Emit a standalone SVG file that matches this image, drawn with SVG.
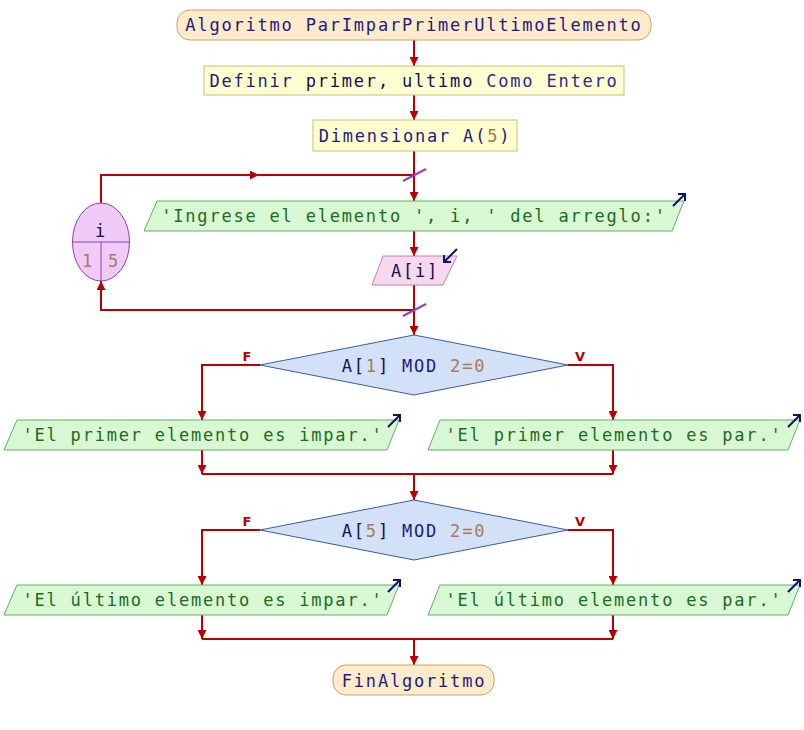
<svg xmlns="http://www.w3.org/2000/svg" width="804" height="730" viewBox="0 0 804 730">
  <defs>
    <marker id="ah" viewBox="0 0 8 8" refX="8" refY="4" markerWidth="9" markerHeight="9" markerUnits="userSpaceOnUse" orient="auto">
      <path d="M0,0 L8,4 L0,8 z" fill="#b80000"/>
    </marker>
  </defs>
  <style>
    .t { font-family: "DejaVu Sans Mono", "Liberation Mono", monospace; font-size: 17px; letter-spacing: 1.8px; text-anchor: middle; }
    .kw { fill: #1c1c7c; }
    .id { fill: #101050; }
    .num { fill: #a87a5a; }
    .out { fill: #1e6a1e; }
    .term { fill: #fdebcc; stroke: #c8a46a; stroke-width: 1; }
    .proc { fill: #ffffcf; stroke: #c8c078; stroke-width: 1; }
    .outp { fill: #d8f8d4; stroke: #62b062; stroke-width: 1; }
    .inp { fill: #f8d8ee; stroke: #c880b0; stroke-width: 1; }
    .dec { fill: #d2e0f8; stroke: #3c5c9c; stroke-width: 1; }
    .loop { fill: #f2caf8; stroke: #8a40a8; stroke-width: 1; }
    .io { fill: none; stroke: #12126e; stroke-width: 2; }
    .lbl { font-family: "DejaVu Sans", "Liberation Sans", sans-serif; font-size: 13px; font-weight: bold; fill: #b80000; text-anchor: middle; }
    .c { fill: none; stroke: #b80000; stroke-width: 2; }
    .cm { fill: none; stroke: #b80000; stroke-width: 2; marker-end: url(#ah); }
    .sl { stroke: #9040c8; stroke-width: 2; }
  </style>

  <!-- connectors -->
  <g id="connectors">
    <line class="cm" x1="414" y1="40" x2="414" y2="66"/>
    <line class="cm" x1="414" y1="95" x2="414" y2="120"/>
    <line class="cm" x1="414" y1="151" x2="414" y2="201"/>
    <line class="cm" x1="414" y1="231" x2="414" y2="256"/>
    <line class="cm" x1="414" y1="285" x2="414" y2="335"/>
    <!-- loop back-edges -->
    <polyline class="cm" points="101,203 101,175 259,175"/>
    <line class="c" x1="256" y1="175" x2="414" y2="175"/>
    <polyline class="cm" points="414,310 101,310 101,281"/>
    <line class="sl" x1="403" y1="181" x2="426" y2="169"/>
    <line class="sl" x1="403" y1="316" x2="426" y2="304"/>
    <!-- first decision -->
    <polyline class="cm" points="260,365 202,365 202,420"/>
    <polyline class="cm" points="568,365 613,365 613,420"/>
    <line class="cm" x1="202" y1="450" x2="202" y2="474"/>
    <line class="cm" x1="613" y1="450" x2="613" y2="474"/>
    <line class="c" x1="202" y1="474" x2="613" y2="474"/>
    <line class="cm" x1="414" y1="474" x2="414" y2="500"/>
    <!-- second decision -->
    <polyline class="cm" points="260,530 202,530 202,585"/>
    <polyline class="cm" points="568,530 613,530 613,585"/>
    <line class="cm" x1="202" y1="615" x2="202" y2="639"/>
    <line class="cm" x1="613" y1="615" x2="613" y2="639"/>
    <line class="c" x1="202" y1="639" x2="613" y2="639"/>
    <line class="cm" x1="414" y1="639" x2="414" y2="665"/>
    <text class="lbl" x="247" y="361">F</text>
    <text class="lbl" x="580" y="361">V</text>
    <text class="lbl" x="247" y="526">F</text>
    <text class="lbl" x="580" y="526">V</text>
  </g>

  <g id="inicio">
    <rect class="term" x="177" y="10" width="474" height="30" rx="13"/>
    <text class="t kw" x="414" y="31">Algoritmo ParImparPrimerUltimoElemento</text>
  </g>

  <g id="definir">
    <rect class="proc" x="204" y="66" width="420" height="29"/>
    <text class="t" x="414" y="87"><tspan class="kw">Definir</tspan><tspan class="id"> primer, ultimo </tspan><tspan fill="#2a2a9a">Como Entero</tspan></text>
  </g>

  <g id="dimensionar">
    <rect class="proc" x="313" y="120" width="204" height="31"/>
    <text class="t" x="415" y="142"><tspan class="kw">Dimensionar A(</tspan><tspan class="num">5</tspan><tspan class="kw">)</tspan></text>
  </g>

  <g id="para">
    <ellipse class="loop" cx="101" cy="242" rx="28.5" ry="39"/>
    <line x1="72.5" y1="242" x2="129.5" y2="242" stroke="#8a40a8" stroke-width="1"/>
    <line x1="101" y1="242" x2="101" y2="281" stroke="#8a40a8" stroke-width="1"/>
    <text class="t id" x="101" y="237">i</text>
    <text class="t num" x="88" y="267">1</text>
    <text class="t num" x="114" y="267">5</text>
  </g>

  <g id="escribir-ingrese">
    <polygon class="outp" points="157,201 684,201 672,231 144,231"/>
    <text class="t out" x="414" y="222">'Ingrese el elemento ', i, ' del arreglo:'</text>
    <path class="io" d="M673,206 L685,194 M678,194 L685,194 L685,201"/>
  </g>

  <g id="leer">
    <polygon class="inp" points="383,256 457,256 443,285 372,285"/>
    <text class="t id" x="415" y="277">A[i]</text>
    <path class="io" d="M457,249 L444,262 M444,255 L444,262 L451,262"/>
  </g>

  <g id="si-primer">
    <polygon class="dec" points="414,335 568,365 414,395 260,365"/>
    <text class="t" x="414" y="372"><tspan class="id">A[</tspan><tspan class="num">1</tspan><tspan class="id">] </tspan><tspan class="kw">MOD </tspan><tspan class="num">2=0</tspan></text>
  </g>

  <g id="escribir-primer-impar">
    <polygon class="outp" points="17,420 399,420 387,450 4,450"/>
    <text class="t out" x="203" y="441">'El primer elemento es impar.'</text>
    <path class="io" d="M388,427 L400,415 M393,415 L400,415 L400,422"/>
  </g>

  <g id="escribir-primer-par">
    <polygon class="outp" points="440,420 800,420 788,450 428,450"/>
    <text class="t out" x="614" y="441">'El primer elemento es par.'</text>
    <path class="io" d="M788,427 L800,415 M793,415 L800,415 L800,422"/>
  </g>

  <g id="si-ultimo">
    <polygon class="dec" points="414,500 568,530 414,560 260,530"/>
    <text class="t" x="414" y="537"><tspan class="id">A[</tspan><tspan class="num">5</tspan><tspan class="id">] </tspan><tspan class="kw">MOD </tspan><tspan class="num">2=0</tspan></text>
  </g>

  <g id="escribir-ultimo-impar">
    <polygon class="outp" points="17,585 399,585 387,615 4,615"/>
    <text class="t out" x="203" y="606">'El último elemento es impar.'</text>
    <path class="io" d="M388,592 L400,580 M393,580 L400,580 L400,587"/>
  </g>

  <g id="escribir-ultimo-par">
    <polygon class="outp" points="440,585 800,585 788,615 428,615"/>
    <text class="t out" x="614" y="606">'El último elemento es par.'</text>
    <path class="io" d="M788,592 L800,580 M793,580 L800,580 L800,587"/>
  </g>

  <g id="fin">
    <rect class="term" x="333" y="665" width="161" height="30" rx="13"/>
    <text class="t kw" x="414" y="687">FinAlgoritmo</text>
  </g>
</svg>
